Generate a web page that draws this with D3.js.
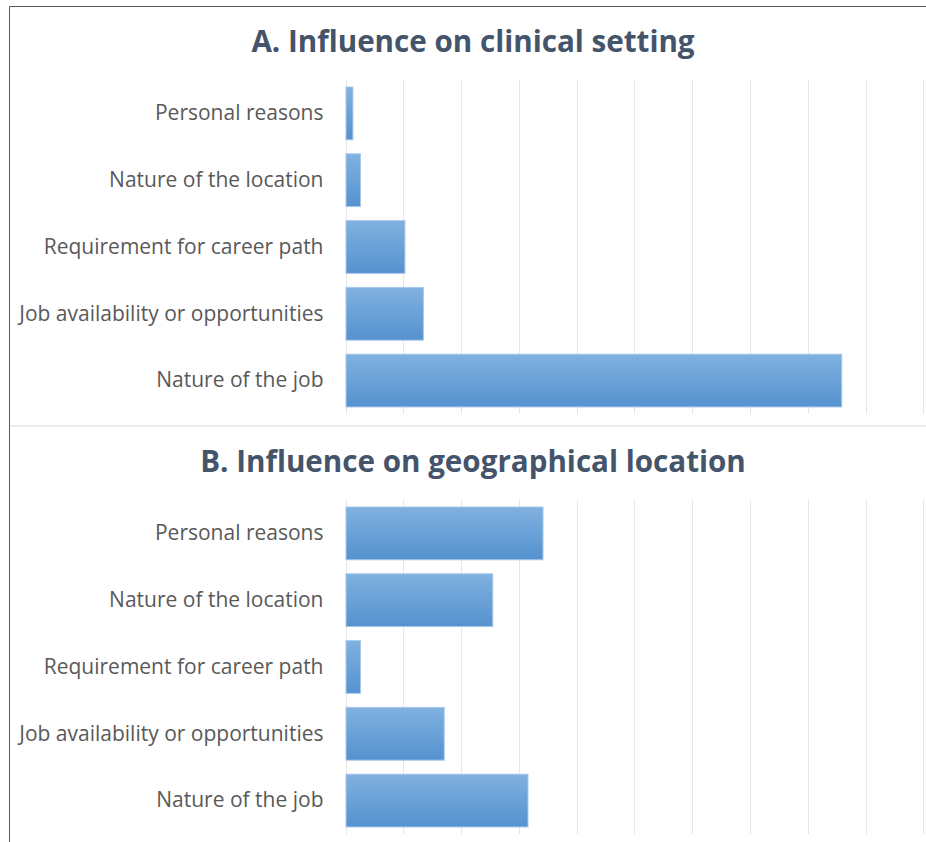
<!DOCTYPE html>
<meta charset="utf-8">
<style>

body {
  margin: 0;
  background: #fff;
}

.title {
  font: bold 29.6px "Open Sans", sans-serif;
  fill: #44546a;
}

.cat text {
  font: 21px "Open Sans", sans-serif;
  fill: #595959;
}

.grid line {
  stroke: #e6e6e6;
  shape-rendering: crispEdges;
}

.bar {
  stroke: #a8c9ea;
  stroke-width: 1;
}

</style>
<body>
<script src="https://cdn.jsdelivr.net/npm/d3@7"></script>
<script>

const categories = ["Personal reasons", "Nature of the location", "Requirement for career path",
  "Job availability or opportunities", "Nature of the job"];
const clinicalValues = [1.2, 2.5, 10.2, 13.4, 85.8];
const geographicalValues = [34.1, 25.4, 2.5, 17.0, 31.5];
const gridTicks = [0, 10, 20, 30, 40, 50, 60, 70, 80, 90, 100];
const panelTitles = ["A. Influence on clinical setting", "B. Influence on geographical location"];

const width = 926, height = 842;

const svg = d3.select("body").append("svg")
    .attr("width", width)
    .attr("height", height);

const grad = svg.append("defs").append("linearGradient")
    .attr("id", "barfill")
    .attr("x1", 0).attr("y1", 0).attr("x2", 0).attr("y2", 1);
grad.append("stop").attr("offset", "0%").attr("stop-color", "#80b1e0");
grad.append("stop").attr("offset", "100%").attr("stop-color", "#5592cf");

// frame: top and left edge, plus the divider between the panels
svg.append("path")
    .attr("d", `M9.5,${height}V6.5H${width}`)
    .attr("fill", "none")
    .attr("stroke", "#5a5a5a");
svg.append("line")
    .attr("x1", 10).attr("x2", width)
    .attr("y1", 426).attr("y2", 426)
    .attr("stroke", "#ececec")
    .attr("stroke-width", 2);

const x = d3.scaleLinear()
    .domain([0, 100])
    .range([345.5, 923.3]);

function panel(values, title, top, titleY) {
  const y = d3.scaleBand()
      .domain(categories)
      .range([top, top + 334])
      .paddingInner(0.21)
      .paddingOuter(0.105);

  svg.append("text")
      .attr("class", "title")
      .attr("x", 473)
      .attr("y", titleY)
      .attr("text-anchor", "middle")
      .text(title);

  svg.append("g")
      .attr("class", "grid")
      .attr("transform", `translate(0,${top + 334})`)
      .call(d3.axisBottom(x).tickValues(gridTicks).tickSize(-334).tickFormat(""))
      .call(g => g.select(".domain").remove());

  svg.append("g")
      .attr("class", "cat")
      .attr("transform", `translate(${x(0)},0)`)
      .call(d3.axisLeft(y).tickSize(0).tickPadding(22))
      .call(g => g.select(".domain").remove());

  svg.append("g")
    .selectAll("rect")
    .data(categories)
    .join("rect")
      .attr("class", "bar")
      .attr("fill", "url(#barfill)")
      .attr("x", x(0) + 0.5)
      .attr("y", d => y(d))
      .attr("width", (d, i) => x(values[i]) - x(0))
      .attr("height", y.bandwidth());
}

panel(clinicalValues, panelTitles[0], 80, 52);
panel(geographicalValues, panelTitles[1], 500, 472);

</script>
